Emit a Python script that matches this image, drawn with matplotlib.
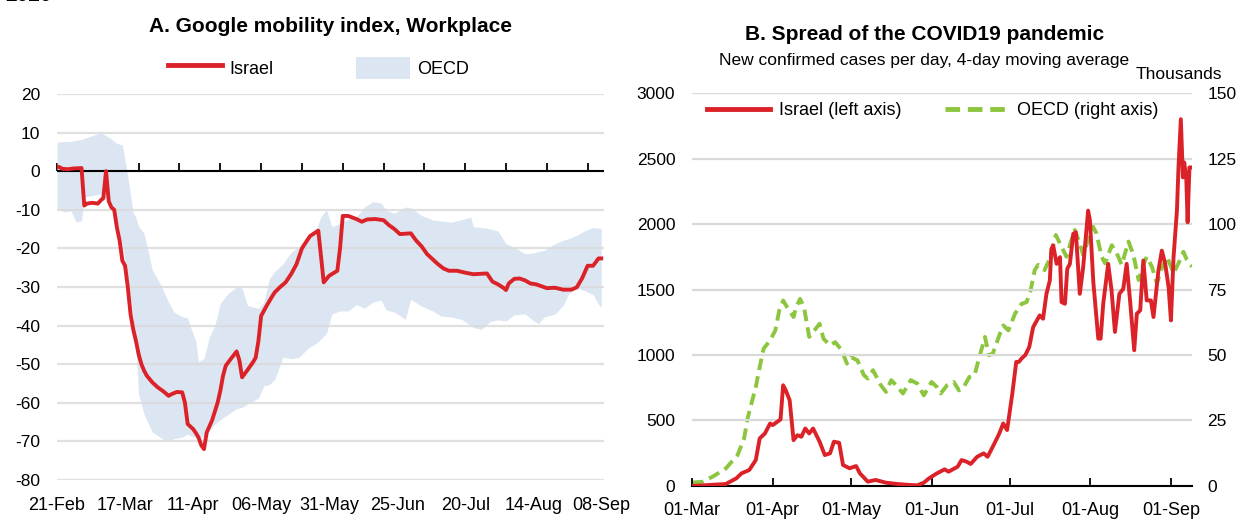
import matplotlib
matplotlib.use('Agg')
import matplotlib.pyplot as plt
from matplotlib.patches import Patch
from matplotlib.lines import Line2D
import numpy as np
import pandas as pd

plt.rcParams['font.family'] = ['Liberation Sans', 'DejaVu Sans']
plt.rcParams['axes.unicode_minus'] = False

RED = '#dc2229'
GREEN = '#8cc63f'
BAND = '#dce6f2'
GRID = '#d9d9d9'

# ---- Panel A: Google mobility, workplace (days since 21-Feb-2020)
a_start = pd.Timestamp('2020-02-21')
israel_days = [0, 1, 2, 4, 6, 9, 10, 11, 13, 15, 16, 17, 18, 19, 20, 21, 22, 23, 24, 25,
               26, 27, 28, 29, 30, 31, 32, 33, 35, 37, 39, 41, 42, 44, 46, 47, 48, 50, 51, 52,
               53, 54, 55, 57, 59, 60, 61, 62, 64, 66, 67, 68, 70, 72, 73, 74, 75, 77, 79, 80,
               82, 84, 86, 88, 90, 91, 93, 96, 97, 98, 100, 103, 104, 105, 107, 110, 112, 114, 117, 120,
               122, 124, 126, 128, 130, 132, 134, 136, 138, 140, 142, 144, 147, 150, 153, 158, 160, 162, 164, 165,
               166, 168, 170, 172, 174, 176, 178, 180, 183, 186, 189, 191, 193, 195, 197, 199, 200]
israel_mob = [1.2, 1.0, 0.6, 0.5, 0.7, 0.8, -8.9, -8.4, -8.2, -8.4, -7.6, -7.0, 0.0, -7.8, -9.4, -10.0, -14.6, -18.0, -23.2, -24.5,
              -30.0, -37.0, -41.0, -44.0, -47.5, -50.0, -51.7, -53.0, -54.7, -56.0, -57.0, -58.2, -57.8, -57.2, -57.3, -60.0, -65.5, -66.8, -67.8, -69.0,
              -71.0, -72.0, -67.7, -64.5, -60.0, -56.9, -53.0, -50.4, -48.5, -46.7, -49.0, -53.4, -51.5, -49.5, -48.3, -44.0, -37.5, -34.9, -32.5, -31.4,
              -30.0, -28.8, -26.7, -24.1, -20.0, -18.9, -16.8, -15.4, -22.0, -28.8, -27.1, -25.8, -20.0, -11.6, -11.6, -12.4, -13.1, -12.5, -12.4, -12.7,
              -14.0, -15.0, -16.3, -16.2, -16.1, -18.0, -19.5, -21.5, -22.8, -24.1, -25.2, -25.8, -25.8, -26.3, -26.7, -26.5, -28.6, -29.3, -30.2, -30.8,
              -29.1, -27.9, -27.8, -28.3, -29.1, -29.3, -29.8, -30.3, -30.2, -30.7, -30.7, -30.1, -27.7, -24.5, -24.5, -22.6, -22.6]

band_days = [0, 3, 5, 7, 9, 10, 13, 16, 19, 22, 24, 26, 28, 29, 30, 32, 35, 37, 39, 41,
             43, 46, 48, 49, 51, 52, 54, 56, 58, 60, 63, 66, 68, 70, 74, 76, 78, 80, 83, 86,
             89, 92, 95, 97, 99, 101, 104, 107, 110, 113, 116, 119, 121, 124, 128, 130, 134, 138, 141, 145,
             149, 152, 153, 156, 159, 162, 165, 168, 172, 175, 177, 179, 183, 186, 188, 191, 194, 197, 199, 200]
oecd_high = [7.5, 7.7, 7.7, 8.0, 8.2, 8.5, 9.2, 10.0, 8.8, 7.2, 6.8, -1.4, -10.9, -12.0, -14.4, -16.1, -25.6, -28.0, -30.8, -34.0,
             -36.5, -37.7, -38.0, -40.3, -44.0, -49.4, -48.5, -42.9, -39.9, -34.2, -31.6, -30.0, -30.3, -34.8, -35.6, -33.9, -27.9, -26.0, -24.0, -21.0,
             -19.6, -18.4, -15.5, -11.8, -10.0, -14.4, -13.5, -12.5, -11.8, -9.3, -7.9, -8.2, -10.1, -10.9, -9.3, -9.5, -11.5, -12.6, -12.9, -13.2,
             -12.5, -11.9, -14.4, -14.6, -14.9, -15.5, -18.8, -19.7, -21.4, -21.2, -20.8, -20.5, -18.8, -17.9, -17.5, -16.6, -15.4, -14.6, -14.8, -14.8]
oecd_low = [-9.8, -10.6, -10.2, -13.2, -12.8, -6.7, -6.3, -5.9, -7.5, -13.0, -19.0, -28.0, -38.0, -46.0, -58.0, -63.0, -67.6, -68.5, -69.5, -69.8,
            -69.3, -68.9, -68.1, -68.5, -69.0, -69.4, -68.5, -67.2, -65.5, -64.4, -62.9, -61.5, -61.2, -60.3, -58.8, -55.6, -55.3, -54.0, -48.2, -48.6,
            -48.2, -46.0, -44.7, -43.5, -42.0, -37.0, -36.2, -36.2, -34.6, -35.5, -33.9, -33.4, -36.0, -36.5, -38.4, -33.2, -35.0, -36.2, -37.5, -37.8,
            -38.5, -40.0, -40.5, -41.0, -39.0, -38.5, -38.8, -37.2, -37.0, -38.7, -39.5, -37.8, -37.0, -34.8, -31.8, -30.2, -31.0, -32.0, -34.5, -35.4]

a_tick_labels = ['21-Feb', '17-Mar', '11-Apr', '06-May', '31-May', '25-Jun', '20-Jul', '14-Aug', '08-Sep']

# ---- Panel B: new cases per day (days since 01-Mar-2020)
b_start = pd.Timestamp('2020-03-01')
cases_days = [0, 13, 17, 19, 22, 24.5, 26, 28, 30, 31, 34, 35, 36, 37.5, 39, 40.5, 42, 43.5, 45, 46.5,
              49, 51, 53, 54.5, 56.5, 58, 60.5, 63, 64.5, 67.5, 70.5, 74.5, 79, 83.5, 86.5, 89, 91, 94, 97, 98.5,
              102, 103.5, 105.5, 107, 109.5, 112, 113.5, 115.5, 118, 119.5, 121, 123, 124.5, 125.5, 126.5, 128, 129.5, 131, 133.5, 134.8,
              136.1, 137.4, 138, 138.7, 140, 141.3, 141.9, 143.2, 144.1, 145.1, 146.4, 147.4, 148.9, 150.2, 152.1, 152.8, 154.1, 156, 156.9, 157.9,
              159.8, 161.1, 162.4, 164.1, 165.6, 166.9, 168.2, 169.8, 170.8, 172.1, 173.3, 174.6, 176.2, 177.2, 179.1, 180.4, 181.7, 183, 183.9, 184.9,
              186.2, 186.8, 187.7, 188.5, 189, 189.8, 190.3, 191, 192]
israel_cases = [0, 15, 58, 96, 122, 198, 363, 401, 477, 465, 508, 769, 731, 655, 350, 388, 376, 439, 401, 439,
                338, 236, 249, 338, 330, 160, 135, 152, 96, 33, 46, 25, 15, 8, 5, 25, 58, 96, 127, 109,
                147, 198, 185, 168, 223, 249, 223, 300, 401, 477, 427, 706, 947, 947, 972, 1000, 1061, 1213, 1302, 1277,
                1467, 1569, 1810, 1836, 1696, 1747, 1404, 1391, 1658, 1696, 1925, 1937, 1467, 1670, 2102, 2026, 1556, 1125, 1125, 1391,
                1696, 1493, 1176, 1467, 1505, 1696, 1417, 1036, 1315, 1341, 1721, 1417, 1417, 1290, 1645, 1797, 1696, 1518, 1264, 1747,
                2102, 2432, 2800, 2356, 2470, 2343, 2013, 2432, 2432]

oecd_days = [0, 4, 8, 13, 17.5, 20, 21.5, 24.5, 26, 27.5, 30, 32, 33.5, 35, 36.5, 39, 40, 41.5, 43, 45,
             46.5, 49, 50.5, 53, 55, 57.5, 59.5, 61, 63.5, 66, 67.5, 69.5, 72.5, 74.5, 76.5, 79, 81, 84, 86.5, 89,
             92, 94, 95.5, 98, 100.5, 102.5, 104, 106.5, 108.5, 110, 112.5, 114, 115.5, 118, 119.5, 121.5, 124, 126.5, 128.5, 130,
             131.6, 132.9, 135.4, 137.4, 139.7, 141.9, 143.8, 145.7, 147, 148.9, 150.2, 152.1, 154, 155.3, 157.3, 158.6, 161.2, 163.1, 165, 167.6,
             169.5, 171.5, 173.3, 174.6, 176.6, 178.5, 180.4, 182.4, 184.9, 186.8, 188.7, 190, 192]
oecd_cases = [1.3, 1.6, 3.6, 6.7, 11.8, 18.1, 26.4, 37.8, 45.4, 52.4, 55.6, 59.4, 67.0, 70.8, 68.3, 64.5, 68.3, 71.4, 68.3, 56.9,
              58.8, 61.9, 56.2, 53.7, 54.9, 51.8, 46.7, 49.2, 48.0, 42.3, 41.0, 44.2, 38.5, 35.9, 40.4, 37.8, 35.3, 40.4, 39.1, 34.6,
              39.7, 37.8, 35.3, 38.5, 39.7, 36.5, 37.2, 41.6, 42.3, 48.0, 56.9, 49.9, 50.5, 57.5, 61.3, 59.4, 65.7, 69.5, 70.2, 74.6,
              82.4, 84.4, 82.4, 86.9, 95.8, 91.3, 87.5, 93.9, 97.7, 92.6, 88.2, 93.9, 99.0, 96.4, 87.5, 85.0, 91.9, 88.8, 84.4, 93.3,
              88.2, 78.6, 84.4, 87.5, 83.7, 77.4, 83.1, 87.5, 81.2, 85.0, 89.4, 86.3, 83.7]

b_tick_labels = ['01-Mar', '01-Apr', '01-May', '01-Jun', '01-Jul', '01-Aug', '01-Sep']


def to_dates(start, days):
    return start + pd.to_timedelta(np.array(days, dtype=float), unit='D')


fig = plt.figure(figsize=(12.43, 5.22), dpi=100)
fig.text(0.004, 0.991, '2020', fontsize=15, fontweight='bold', va='bottom', ha='left')

# ---------------- Panel A
ax = fig.add_axes([0.0459, 0.0805, 0.4400, 0.7395])
ax.fill_between(to_dates(a_start, band_days), oecd_low, oecd_high, color=BAND, lw=0, zorder=0.3)
ax.plot(to_dates(a_start, israel_days), israel_mob, color=RED, lw=2.8, zorder=3, solid_joinstyle='round')
ax.set_ylim(-80, 20)
ax.set_yticks(range(-80, 21, 10))
ax.set_xlim(a_start, a_start + pd.Timedelta(days=201))
ax.grid(axis='y', color=GRID, lw=1.6, alpha=0.8)
ax.set_axisbelow(True)
for s in ax.spines.values():
    s.set_visible(False)
a_label_dates = [a_start + pd.Timedelta(days=25 * i) for i in range(len(a_tick_labels))]
ax.set_xticks(a_label_dates)
ax.set_xticklabels(a_tick_labels)
ax.tick_params(axis='x', length=0, labelsize=13, pad=12)
ax.tick_params(axis='y', length=0, labelsize=12.5, pad=12)
ax.axhline(0, color='black', lw=1.5, zorder=2)
sec = ax.secondary_xaxis(0, transform=ax.transData)
sec.set_xticks([a_start + pd.Timedelta(days=15 * i) for i in range(14)])
sec.tick_params(direction='in', length=6, width=1.3, labelbottom=False)
sec.spines['bottom'].set_visible(False)

ax.text(0.5, 1.174, 'A. Google mobility index, Workplace', transform=ax.transAxes,
        ha='center', va='center', fontsize=15, fontweight='bold')
handles = [Line2D([], [], color=RED, lw=3.5), Patch(facecolor=BAND, edgecolor='none')]
ax.legend(handles, ['Israel', 'OECD'], loc='center', bbox_to_anchor=(0.478, 1.067), ncol=2,
          frameon=False, fontsize=13, handlelength=3.0, handleheight=1.55, columnspacing=4.6,
          handletextpad=0.4, borderpad=0.1)

# ---------------- Panel B
bx = fig.add_axes([0.5567, 0.0690, 0.4023, 0.7528])
bx.plot(to_dates(b_start, cases_days), israel_cases, color=RED, lw=2.8, zorder=3)
bx.set_ylim(0, 3000)
bx.set_yticks(range(0, 3001, 500))
bx.set_xlim(b_start, b_start + pd.Timedelta(days=192))
bx.grid(axis='y', color=GRID, lw=1.6, zorder=0)
bx.set_axisbelow(True)
for s in bx.spines.values():
    s.set_visible(False)
bx.spines['bottom'].set_visible(True)
bx.spines['bottom'].set_linewidth(1.5)
b_label_dates = [pd.Timestamp(f'2020-{m:02d}-01') for m in range(3, 10)]
bx.set_xticks(b_label_dates)
bx.set_xticklabels(b_tick_labels)
bx.tick_params(axis='x', direction='in', length=6, width=1.3, labelsize=13, pad=11.5)
bx.tick_params(axis='y', length=0, labelsize=12.5, pad=12)

bx2 = bx.twinx()
bx2.plot(to_dates(b_start, oecd_days), oecd_cases, color=GREEN, lw=2.8, dashes=(3.0, 1.6), zorder=2)
bx2.set_ylim(0, 150)
bx2.set_yticks(range(0, 151, 25))
for s in bx2.spines.values():
    s.set_visible(False)
bx2.tick_params(axis='y', length=0, labelsize=12.5, pad=11)
bx.set_zorder(bx2.get_zorder() + 1)
bx.patch.set_visible(False)

bx.text(0.465, 1.148, 'B. Spread of the COVID19 pandemic', transform=bx.transAxes,
        ha='center', va='center', fontsize=15, fontweight='bold')
bx.text(0.465, 1.084, 'New confirmed cases per day, 4-day moving average', transform=bx.transAxes,
        ha='center', va='center', fontsize=12.5)
bx.text(0.974, 1.046, 'Thousands', transform=bx.transAxes, ha='center', va='center', fontsize=12.5)
handles = [Line2D([], [], color=RED, lw=3.5), Line2D([], [], color=GREEN, lw=3.5, dashes=(3.0, 1.6))]
bx.legend(handles, ['Israel (left axis)', 'OECD (right axis)'], loc='center',
          bbox_to_anchor=(0.482, 0.955), ncol=2, frameon=False, fontsize=13, handlelength=3.5,
          columnspacing=2.4, handletextpad=0.5)

fig.savefig('out.png', dpi=100)
